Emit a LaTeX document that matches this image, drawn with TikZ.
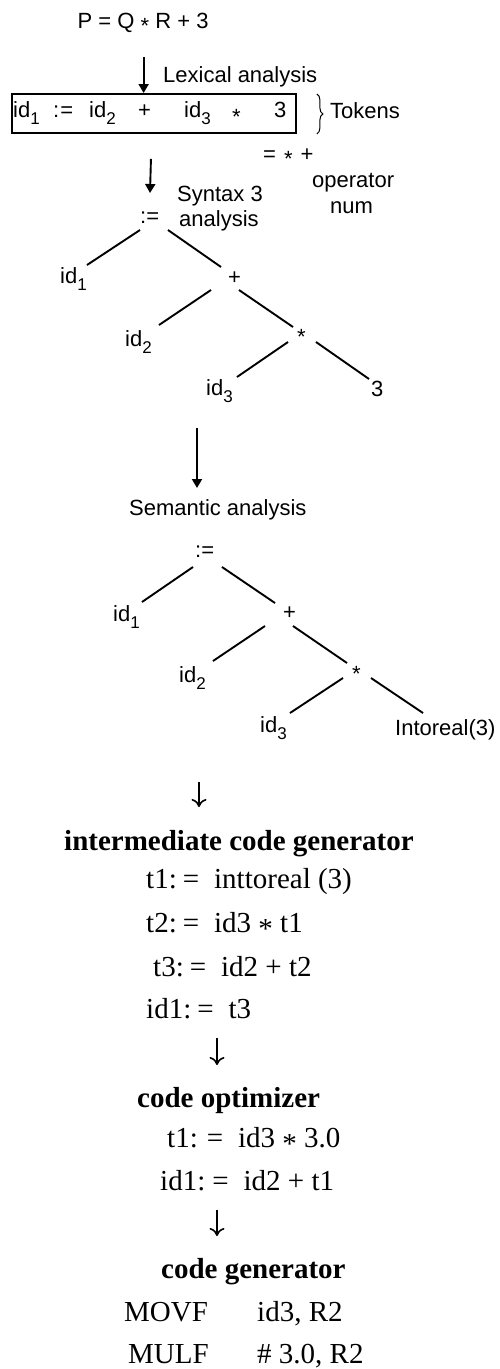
\documentclass[tikz,border=0pt]{standalone}
\usepackage{fontspec}
\setmainfont{Liberation Serif}
\newfontfamily\sansf{Liberation Sans}
\usetikzlibrary{arrows.meta,decorations.pathreplacing}
\newcommand\sbs[1]{\raisebox{-7.5pt}{\fontsize{17}{17}\selectfont #1}}
\newcommand\lstar[1]{\raisebox{-#1}{*}}
\tikzset{
  sans/.style={font=\sansf\fontsize{22}{26}\selectfont, inner sep=0pt, anchor=base west},
  serif/.style={font=\fontsize{29}{34}\selectfont, inner sep=0pt, anchor=base west},
  bserif/.style={font=\bfseries\fontsize{29}{34}\selectfont, inner sep=0pt, anchor=base west},
  tline/.style={line width=1.9pt},
  arr/.style={line width=1.9pt, -{Triangle[length=9pt,width=10pt]}},
  darr/.style={line width=1.2pt, -{To[length=8pt,width=15pt,line width=1.6pt]}}
}
\begin{document}
\begin{tikzpicture}[x=1pt,y=-1pt]
\useasboundingbox (0,0) rectangle (499,1369);

% --- top: lexical analysis ---
\node[sans] (pq) at (77.5,28) {P = Q \lstar{5pt} R + 3};
\node[draw, line width=1.9pt, minimum width=284pt, minimum height=39pt, inner sep=0pt, anchor=north west] (box) at (11,93) {};
\draw[arr] ([shift={(0.5,29)}]pq.base) -- ([shift={(0.5,0)}]pq.base |- box.north);
\node[sans] (lex) at (163,82) {Lexical analysis};
\node[sans] (bid1) at (13,117) {id\sbs{1}};
\node[sans] (bcol) at (53,117) {:\hspace{1pt}=};
\node[sans] (bid2) at (89,117) {id\sbs{2}};
\node[sans] (bplus) at (138,117) {+};
\node[sans] (bid3) at (184,117) {id\sbs{3}};
\node[sans] (bstar) at (232,124) {*};
\node[sans] (bthree) at (274,117) {3};
\draw[line width=1pt, decorate, decoration={brace, amplitude=6pt}] ([shift={(20,1)}]box.north east) -- ([shift={(20,0)}]box.south east);
\node[sans] (tok) at (330,118) {Tokens};
\node[sans] (ops) at (263,161) {=\hspace{8pt}\lstar{5pt}\hspace{8pt}+};
\node[sans] (opr) at (312,187) {operator};
\node[sans] (num) at (330,213) {num};

% --- syntax tree ---
\node[sans] (syn1) at (177,201) {Syntax 3};
\node[sans] (syn2) at (179,226) {analysis};
\node[sans] (aeq) at (140,223) {:=};
\draw[arr] ([shift={(-3,25)}]box.south) -- ([shift={(10,-30)}]aeq.base west);
\node[sans] (aid1) at (60,283) {id\sbs{1}};
\node[sans] (aplus) at (228,284) {+};
\node[sans] (aid2) at (125,346) {id\sbs{2}};
\node[sans] (astar) at (297,344) {*};
\node[sans] (aid3) at (206,395) {id\sbs{3}};
\node[sans] (athree) at (371,396) {3};
\draw[tline] ([shift={(0,7)}]aeq.base west) -- ([shift={(27,-18)}]aid1.base west);
\draw[tline] ([shift={(28,7)}]aeq.base west) -- ([shift={(-7,-17)}]aplus.base west);
\draw[tline] ([shift={(-17,6)}]aplus.base west) -- ([shift={(34,-21)}]aid2.base west);
\draw[tline] ([shift={(11,6)}]aplus.base west) -- ([shift={(-4,-17)}]astar.base west);
\draw[tline] ([shift={(-9,-2)}]astar.base west) -- ([shift={(31,-18)}]aid3.base west);
\draw[tline] ([shift={(19,-2)}]astar.base west) -- ([shift={(-2,-17)}]athree.base west);

% --- semantic analysis ---
\node[sans] (sem) at (129,515) {Semantic analysis};
\draw[arr] ([shift={(-9,33)}]aid3.base west) -- ([shift={(68,-27)}]sem.base west);
\node[sans] (beq) at (195,557) {:=};
\node[sans] (cid1) at (113,621) {id\sbs{1}};
\node[sans] (cplus) at (283,619) {+};
\node[sans] (cid2) at (179,682) {id\sbs{2}};
\node[sans] (cstar) at (352,681) {*};
\node[sans] (cid3) at (260,732) {id\sbs{3}};
\node[sans] (cint) at (395,735) {Intoreal(3)};
\draw[tline] ([shift={(-2,10)}]beq.base west) -- ([shift={(29,-19)}]cid1.base west);
\draw[tline] ([shift={(27,10)}]beq.base west) -- ([shift={(-8,-16)}]cplus.base west);
\draw[tline] ([shift={(-18,7)}]cplus.base west) -- ([shift={(34,-21)}]cid2.base west);
\draw[tline] ([shift={(10,7)}]cplus.base west) -- ([shift={(-5,-18)}]cstar.base west);
\draw[tline] ([shift={(-9,-3)}]cstar.base west) -- ([shift={(30,-19)}]cid3.base west);
\draw[tline] ([shift={(19,-3)}]cstar.base west) -- ([shift={(28,-22)}]cint.base west);

% --- intermediate code ---
\node[bserif] (icg) at (64,850) {intermediate code generator};
\draw[darr] ([shift={(135,-68)}]icg.base west) -- ([shift={(135,-43)}]icg.base west);
\node[serif] (ic1) at (146,888) {t1:\hspace{6pt}=\hspace{15pt}inttoreal (3)};
\node[serif] (ic2) at (146,932) {t2:\hspace{6pt}=\hspace{15pt}id3 \lstar{6pt} t1};
\node[serif] (ic3) at (153,976) {t3:\hspace{6pt}=\hspace{15pt}id2 + t2};
\node[serif] (ic4) at (146,1018) {id1:\hspace{6pt}=\hspace{15pt}t3};

% --- code optimizer ---
\node[bserif] (cop) at (137,1107) {code optimizer};
\draw[darr] ([shift={(71,20)}]ic4.base west) -- ([shift={(80,-42)}]cop.base west);
\node[serif] (co1) at (167,1147) {t1:\hspace{9pt}=\hspace{15pt}id3 \lstar{6pt} 3.0};
\node[serif] (co2) at (160,1190) {id1:\hspace{7pt}=\hspace{15pt}id2 + t1};

% --- code generator ---
\node[bserif] (cgn) at (161,1278) {code generator};
\draw[darr] ([shift={(57,20)}]co2.base west) -- ([shift={(56,-42)}]cgn.base west);
\node[serif] (m1a) at (124,1321) {MOVF};
\node[serif] (m1b) at (257,1321) {id3, R2};
\node[serif] (m2a) at (128,1363) {MULF};
\node[serif] (m2b) at (257,1363) {\# 3.0, R2};
\end{tikzpicture}
\end{document}
